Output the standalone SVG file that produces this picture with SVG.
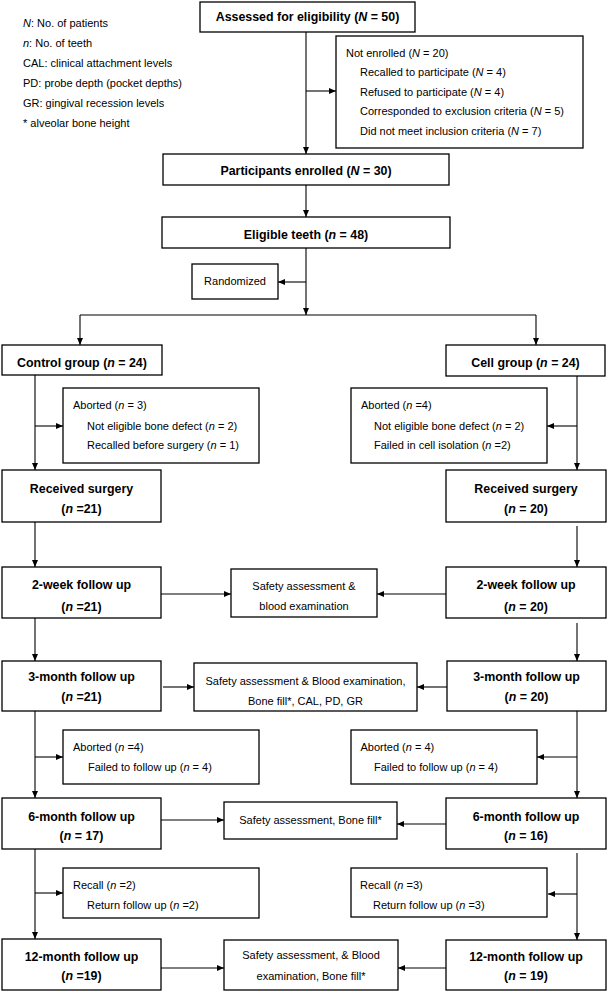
<svg xmlns="http://www.w3.org/2000/svg" width="607" height="992" viewBox="0 0 607 992">
<style>
.b{fill:#fff;stroke:#000;stroke-width:1.3}
.h{font-family:"Liberation Sans",Arial,sans-serif;font-size:13.2px;font-weight:bold;text-anchor:middle;fill:#000;transform-box:fill-box;transform-origin:50% 0;transform:scaleX(0.94)}
.t{font-family:"Liberation Sans",Arial,sans-serif;font-size:11.6px;fill:#000;transform-box:fill-box;transform-origin:0 0;transform:scaleX(0.95)}
.m{text-anchor:middle;transform-origin:50% 0}
.i{font-style:italic}
.c{fill:none;stroke:#000;stroke-width:1.1}
</style>
<defs>
<marker id="a" markerUnits="userSpaceOnUse" markerWidth="8" markerHeight="8" refX="7" refY="3" orient="auto">
<path d="M0,0 L7,3 L0,6 z" fill="#000"/>
</marker>
</defs>
<g id="legend">
<text class="t" x="23" y="27"><tspan class="i">N</tspan>: No. of patients</text>
<text class="t" x="23" y="47"><tspan class="i">n</tspan>: No. of teeth</text>
<text class="t" x="23" y="67">CAL: clinical attachment levels</text>
<text class="t" x="23" y="87">PD: probe depth (pocket depths)</text>
<text class="t" x="23" y="107">GR: gingival recession levels</text>
<text class="t" x="23" y="127">* alveolar bone height</text>
</g>
<g id="connectors">
<path class="c" d="M306,32 V154" marker-end="url(#a)"/>
<path class="c" d="M306,91 H336" marker-end="url(#a)"/>
<path class="c" d="M306,185 V217" marker-end="url(#a)"/>
<path class="c" d="M306,248 V315" marker-end="url(#a)"/>
<path class="c" d="M306,282 H278" marker-end="url(#a)"/>
<path class="c" d="M80,315 H536"/>
<path class="c" d="M80,315 V345" marker-end="url(#a)"/>
<path class="c" d="M536,315 V345" marker-end="url(#a)"/>
<path class="c" d="M35,375 V470" marker-end="url(#a)"/>
<path class="c" d="M35,426 H63" marker-end="url(#a)"/>
<path class="c" d="M577,376 V470" marker-end="url(#a)"/>
<path class="c" d="M577,426 H547" marker-end="url(#a)"/>
<path class="c" d="M35,522 V567" marker-end="url(#a)"/>
<path class="c" d="M577,526 V567" marker-end="url(#a)"/>
<path class="c" d="M161,594 H231" marker-end="url(#a)"/>
<path class="c" d="M446,594 H377" marker-end="url(#a)"/>
<path class="c" d="M35,618 V661" marker-end="url(#a)"/>
<path class="c" d="M577,623 V661" marker-end="url(#a)"/>
<path class="c" d="M163,687 H194" marker-end="url(#a)"/>
<path class="c" d="M447,687 H417" marker-end="url(#a)"/>
<path class="c" d="M35,711 V798" marker-end="url(#a)"/>
<path class="c" d="M35,757 H63" marker-end="url(#a)"/>
<path class="c" d="M577,711 V798" marker-end="url(#a)"/>
<path class="c" d="M577,757 H537" marker-end="url(#a)"/>
<path class="c" d="M161,820 H224" marker-end="url(#a)"/>
<path class="c" d="M446,824 H397" marker-end="url(#a)"/>
<path class="c" d="M35,849 V939" marker-end="url(#a)"/>
<path class="c" d="M35,893 H63" marker-end="url(#a)"/>
<path class="c" d="M577,853 V940" marker-end="url(#a)"/>
<path class="c" d="M577,894 H548" marker-end="url(#a)"/>
<path class="c" d="M161,968 H224" marker-end="url(#a)"/>
<path class="c" d="M446,968 H398" marker-end="url(#a)"/>
</g>
<g id="assessed">
<rect class="b" x="200" y="2" width="215" height="30"/>
<text class="h" x="307.5" y="21.5">Assessed for eligibility (<tspan class="i">N</tspan> = 50)</text>
</g>
<g id="not-enrolled">
<rect class="b" x="336" y="36" width="247" height="112"/>
<text class="t" x="346" y="57">Not enrolled (<tspan class="i">N</tspan> = 20)</text>
<text class="t" x="360" y="76.5">Recalled to participate (<tspan class="i">N</tspan> = 4)</text>
<text class="t" x="360" y="96">Refused to participate (<tspan class="i">N</tspan> = 4)</text>
<text class="t" x="360" y="115.5">Corresponded to exclusion criteria (<tspan class="i">N</tspan> = 5)</text>
<text class="t" x="360" y="135">Did not meet inclusion criteria (<tspan class="i">N</tspan> = 7)</text>
</g>
<g id="enrolled">
<rect class="b" x="163" y="154" width="286" height="31"/>
<text class="h" x="306" y="175.3">Participants enrolled (<tspan class="i">N</tspan> = 30)</text>
</g>
<g id="eligible">
<rect class="b" x="162" y="217" width="288" height="31"/>
<text class="h" x="306" y="238.6">Eligible teeth (<tspan class="i">n</tspan> = 48)</text>
</g>
<g id="randomized">
<rect class="b" x="192" y="264" width="86" height="35"/>
<text class="t m" x="235" y="285">Randomized</text>
</g>
<g id="control">
<rect class="b" x="2" y="345" width="160" height="30"/>
<text class="h" x="82" y="367">Control group (<tspan class="i">n</tspan> = 24)</text>
</g>
<g id="cell">
<rect class="b" x="446" y="345" width="159" height="31"/>
<text class="h" x="525.5" y="367">Cell group (<tspan class="i">n</tspan> = 24)</text>
</g>
<g id="control-aborted">
<rect class="b" x="63" y="388" width="196" height="75"/>
<text class="t" x="73" y="409">Aborted (<tspan class="i">n</tspan> = 3)</text>
<text class="t" x="87" y="430">Not eligible bone defect (<tspan class="i">n</tspan> = 2)</text>
<text class="t" x="87" y="449.5">Recalled before surgery (<tspan class="i">n</tspan> = 1)</text>
</g>
<g id="cell-aborted">
<rect class="b" x="351" y="388" width="196" height="75"/>
<text class="t" x="361" y="409">Aborted (<tspan class="i">n</tspan> =4)</text>
<text class="t" x="374" y="430">Not eligible bone defect (<tspan class="i">n</tspan> = 2)</text>
<text class="t" x="374" y="449.5">Failed in cell isolation (<tspan class="i">n</tspan> =2)</text>
</g>
<g id="control-surgery">
<rect class="b" x="2" y="470" width="159" height="52"/>
<text class="h" x="81.5" y="493">Received surgery</text>
<text class="h" x="81.5" y="513">(<tspan class="i">n</tspan> =21)</text>
</g>
<g id="cell-surgery">
<rect class="b" x="446" y="470" width="160" height="52"/>
<text class="h" x="526" y="493">Received surgery</text>
<text class="h" x="526" y="513">(<tspan class="i">n</tspan> = 20)</text>
</g>
<g id="control-2w">
<rect class="b" x="2" y="567" width="159" height="51"/>
<text class="h" x="81.5" y="588.6">2-week follow up</text>
<text class="h" x="81.5" y="610.6">(<tspan class="i">n</tspan> =21)</text>
</g>
<g id="safety-2w">
<rect class="b" x="231" y="569" width="146" height="48"/>
<text class="t m" x="304" y="590">Safety assessment &amp;</text>
<text class="t m" x="304" y="610">blood examination</text>
</g>
<g id="cell-2w">
<rect class="b" x="446" y="567" width="160" height="51"/>
<text class="h" x="526" y="588.6">2-week follow up</text>
<text class="h" x="526" y="610.6">(<tspan class="i">n</tspan> = 20)</text>
</g>
<g id="control-3m">
<rect class="b" x="2" y="661" width="159" height="50"/>
<text class="h" x="81.5" y="681.3">3-month follow up</text>
<text class="h" x="81.5" y="701.3">(<tspan class="i">n</tspan> =21)</text>
</g>
<g id="safety-3m">
<rect class="b" x="194" y="663" width="223" height="48"/>
<text class="t m" x="305.5" y="685">Safety assessment &amp; Blood examination,</text>
<text class="t m" x="305.5" y="705">Bone fill*, CAL, PD, GR</text>
</g>
<g id="cell-3m">
<rect class="b" x="447" y="661" width="159" height="50"/>
<text class="h" x="526.5" y="681.3">3-month follow up</text>
<text class="h" x="526.5" y="701.3">(<tspan class="i">n</tspan> = 20)</text>
</g>
<g id="control-aborted-3m">
<rect class="b" x="63" y="730" width="196" height="54"/>
<text class="t" x="73" y="751">Aborted (<tspan class="i">n</tspan> =4)</text>
<text class="t" x="88" y="770.6">Failed to follow up (<tspan class="i">n</tspan> = 4)</text>
</g>
<g id="cell-aborted-3m">
<rect class="b" x="351" y="730" width="186" height="54"/>
<text class="t" x="360.5" y="751">Aborted (<tspan class="i">n</tspan> = 4)</text>
<text class="t" x="374" y="770.6">Failed to follow up (<tspan class="i">n</tspan> = 4)</text>
</g>
<g id="control-6m">
<rect class="b" x="2" y="798" width="159" height="51"/>
<text class="h" x="81.5" y="820.6">6-month follow up</text>
<text class="h" x="81.5" y="839.6">(<tspan class="i">n</tspan> = 17)</text>
</g>
<g id="safety-6m">
<rect class="b" x="224" y="802" width="173" height="37"/>
<text class="t m" x="310.5" y="824">Safety assessment, Bone fill*</text>
</g>
<g id="cell-6m">
<rect class="b" x="446" y="798" width="160" height="51"/>
<text class="h" x="526" y="820.6">6-month follow up</text>
<text class="h" x="526" y="839.6">(<tspan class="i">n</tspan> = 16)</text>
</g>
<g id="control-recall">
<rect class="b" x="63" y="868" width="196" height="50"/>
<text class="t" x="73" y="889">Recall (<tspan class="i">n</tspan> =2)</text>
<text class="t" x="87" y="909">Return follow up (<tspan class="i">n</tspan> =2)</text>
</g>
<g id="cell-recall">
<rect class="b" x="351" y="868" width="196" height="49"/>
<text class="t" x="360" y="889">Recall (<tspan class="i">n</tspan> =3)</text>
<text class="t" x="373" y="909">Return follow up (<tspan class="i">n</tspan> =3)</text>
</g>
<g id="control-12m">
<rect class="b" x="2" y="939" width="159" height="51"/>
<text class="h" x="81.5" y="960.6">12-month follow up</text>
<text class="h" x="81.5" y="979.6">(<tspan class="i">n</tspan> =19)</text>
</g>
<g id="safety-12m">
<rect class="b" x="224" y="940" width="174" height="50"/>
<text class="t m" x="311" y="959">Safety assessment, &amp; Blood</text>
<text class="t m" x="311" y="980">examination, Bone fill*</text>
</g>
<g id="cell-12m">
<rect class="b" x="446" y="940" width="160" height="50"/>
<text class="h" x="526" y="960.6">12-month follow up</text>
<text class="h" x="526" y="979.6">(<tspan class="i">n</tspan> = 19)</text>
</g>
</svg>
